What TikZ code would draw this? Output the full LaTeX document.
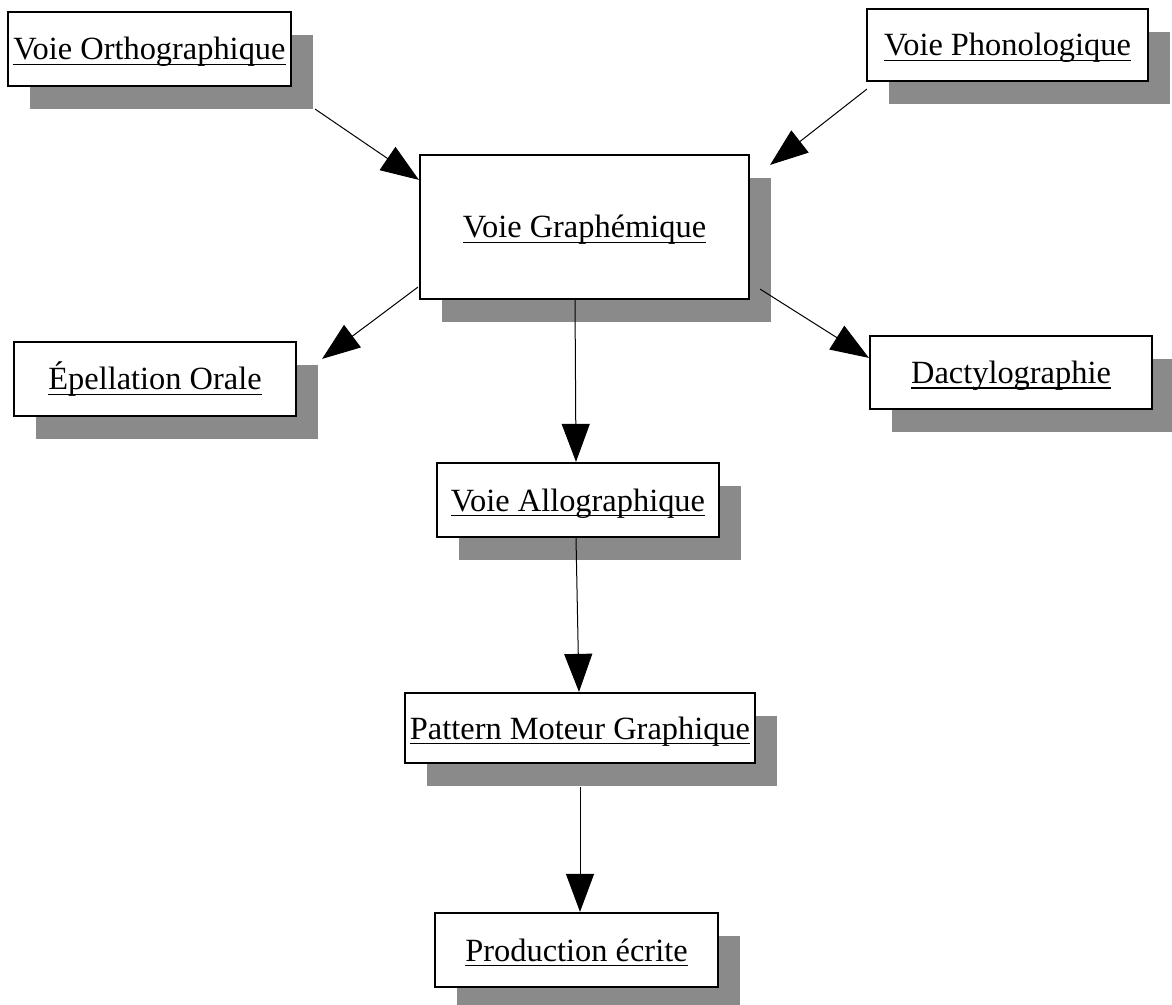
\documentclass[tikz,border=0pt]{standalone}
\usepackage{fontspec}
\setmainfont{Liberation Serif}
\usetikzlibrary{arrows.meta,shadows,calc}
\definecolor{shadowgray}{RGB}{138,138,138}
\newcommand{\ulx}[1]{\setbox0=\hbox{#1}\rlap{\rule[-2.6pt]{\wd0}{0.8pt}}\box0}
\begin{document}
\begin{tikzpicture}[x=0.5pt,y=-0.5pt,
  box/.style={draw=black, line width=1.1pt, fill=white, inner sep=0pt,
    font=\fontsize{16.2pt}{18pt}\selectfont, text height=11pt, text depth=0pt,
    general shadow={fill=shadowgray, shadow xshift=11pt, shadow yshift=-11.5pt}},
  conn/.style={line width=0.5pt, -{Triangle[length=19pt,width=14pt]}}]
\clip (0,0) rectangle (1172,1005);
\fill[white] (0,0) rectangle (1172,1005);
\node[box, minimum width=141.5pt, minimum height=37pt] (ortho) at (149.5,49) {\ulx{Voie Orthographique}};
\node[box, minimum width=140.5pt, minimum height=36pt] (phono) at (1007.5,45) {\ulx{Voie Phonologique}};
\node[box, minimum width=164.5pt, minimum height=72pt] (graph) at (584.5,227) {\ulx{Voie Graphémique}};
\node[box, minimum width=141pt, minimum height=37pt] (epel) at (155,379) {\ulx{Épellation Orale}};
\node[box, minimum width=141pt, minimum height=36.5pt] (dactylo) at (1011,372.5) {\ulx{Dactylographie}};
\node[box, minimum width=141pt, minimum height=37pt] (allo) at (578,500) {\ulx{Voie Allographique}};
\node[box, minimum width=175pt, minimum height=35pt] (pattern) at (580,728) {\ulx{Pattern Moteur Graphique}};
\node[box, minimum width=141.5pt, minimum height=37pt] (prod) at (576.5,950) {\ulx{Production écrite}};
\coordinate (a1s) at ($(ortho.south east)+(23,22)$);
\coordinate (a1e) at ($(graph.north west)+(0,26)$);
\coordinate (a2s) at ($(phono.south west)+(1,7)$);
\coordinate (a2e) at ($(graph.north east)+(20,11)$);
\coordinate (a3s) at ($(graph.south west)+(-1,-13)$);
\coordinate (a3e) at ($(epel.north east)+(25,18)$);
\coordinate (a4s) at ($(graph.south east)+(10,-11)$);
\coordinate (a4e) at ($(dactylo.north west)+(0,23)$);
\coordinate (a5s) at ($(graph.south)+(-9.5,0)$);
\coordinate (a5e) at ($(allo.north)+(-2,0)$);
\coordinate (a6s) at ($(allo.south)+(-2,0)$);
\coordinate (a6e) at ($(pattern.north)+(-1,0)$);
\coordinate (a7s) at ($(pattern.south)+(0,23)$);
\coordinate (a7e) at ($(prod.north)+(3.5,0)$);
\draw[conn] (a1s) -- (a1e);
\draw[conn] (a2s) -- (a2e);
\draw[conn] (a3s) -- (a3e);
\draw[conn] (a4s) -- (a4e);
\draw[conn] (a5s) -- (a5e);
\draw[conn] (a6s) -- (a6e);
\draw[conn] (a7s) -- (a7e);
\end{tikzpicture}
\end{document}
